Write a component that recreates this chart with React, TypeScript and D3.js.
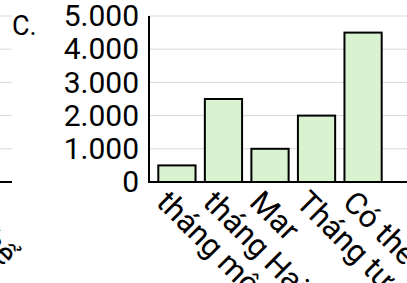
import React, { useEffect, useRef } from "react";
import * as d3 from "d3";

const categories = ["tháng một", "tháng Hai", "Mar", "Tháng tư", "Có thể"];
const values = [500, 2500, 1000, 2000, 4500];
const yTicks = [0, 1000, 2000, 3000, 4000, 5000];
const panelLabels = ["B.", "C."];
const panelOrigins = [-388, 12];

const vi = d3.formatLocale({
  decimal: ",",
  thousands: ".",
  grouping: [3],
  currency: ["", " ₫"],
});
const fmt = vi.format(",d");

const App = () => {
  const ref = useRef<SVGSVGElement>(null);
  const width = 407;
  const height = 283;

  useEffect(() => {
    drawChart();
  }, []);

  const drawChart = () => {
    const svg = d3.select(ref.current);
    svg.selectAll("*").remove();

    const panelWidth = 400;
    const plotLeft = 137;
    const barsRight = 379;
    const top = 16;
    const bottom = 182;

    const y = d3.scaleLinear().domain([0, 5000]).range([bottom, top]);
    const x = d3
      .scaleBand<string>()
      .domain(categories)
      .range([plotLeft, barsRight])
      .padding(0.2);

    panelOrigins.forEach((ox, pi) => {
      const g = svg.append("g").attr("transform", `translate(${ox},0)`);

      // grid
      g.append("g")
        .selectAll("line")
        .data(yTicks.filter((d) => d > 0))
        .enter()
        .append("line")
        .attr("x1", plotLeft)
        .attr("x2", panelWidth)
        .attr("y1", (d) => y(d))
        .attr("y2", (d) => y(d))
        .attr("stroke", "#d9d9d9")
        .attr("stroke-width", 1);

      // bars
      g.append("g")
        .selectAll("rect")
        .data(values)
        .enter()
        .append("rect")
        .attr("x", (d, i) => x(categories[i])!)
        .attr("y", (d) => y(d))
        .attr("width", x.bandwidth())
        .attr("height", (d) => bottom - y(d))
        .attr("fill", "#d9f2d0")
        .attr("stroke", "#000")
        .attr("stroke-width", 2);

      // y axis
      const yAxis = g
        .append("g")
        .attr("transform", `translate(${plotLeft},0)`)
        .call(
          d3
            .axisLeft(y)
            .tickValues(yTicks)
            .tickFormat((d) => fmt(d as number))
            .tickSize(0)
            .tickPadding(10)
        );
      yAxis.select(".domain").remove();
      yAxis
        .selectAll("text")
        .attr("font-family", "Roboto")
        .attr("font-size", 30)
        .attr("fill", "#000");

      // x axis, labels turned 45 degrees
      const xAxis = g
        .append("g")
        .attr("transform", `translate(0,${bottom})`)
        .call(d3.axisBottom(x).tickSize(0).tickPadding(9));
      xAxis.select(".domain").remove();
      xAxis
        .selectAll("text")
        .attr("font-family", "Roboto")
        .attr("font-size", 31)
        .attr("fill", "#000")
        .attr("text-anchor", "start")
        .attr("transform", "rotate(45)");

      // axis lines
      g.append("line")
        .attr("x1", plotLeft)
        .attr("x2", plotLeft)
        .attr("y1", top)
        .attr("y2", bottom)
        .attr("stroke", "#000")
        .attr("stroke-width", 2);
      g.append("line")
        .attr("x1", plotLeft - 1)
        .attr("x2", panelWidth)
        .attr("y1", bottom)
        .attr("y2", bottom)
        .attr("stroke", "#000")
        .attr("stroke-width", 2);

      g.append("text")
        .attr("x", 0)
        .attr("y", 35)
        .attr("font-family", "Roboto")
        .attr("font-size", 27)
        .attr("fill", "#000")
        .text(panelLabels[pi]);
    });
  };

  return (
    <svg
      ref={ref}
      width={width}
      height={height}
      style={{ position: "absolute", left: 0, top: 0, background: "#fff" }}
    />
  );
};

export default App;
